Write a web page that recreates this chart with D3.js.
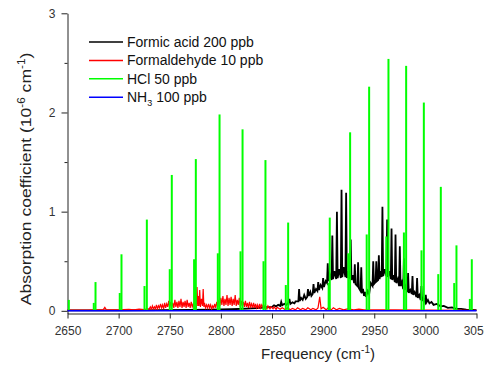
<!DOCTYPE html>
<html>
<head>
<meta charset="utf-8">
<script src="https://cdn.jsdelivr.net/npm/d3@7"></script>
<style>
  body { margin: 0; background: #fff; }
  svg { display: block; font-family: "Liberation Sans", Arial, sans-serif; }
  .axis path, .axis line { stroke: #222; }
  .axis text { fill: #333; font-size: 12px; font-family: "Liberation Sans", Arial, sans-serif; }
</style>
</head>
<body>
<svg id="chart" width="484" height="366"></svg>
<script>
// formic acid 200 ppb: [frequency, absorption]
const formicAcid = [
  [2650,.004],[2700,.005],[2740,.007],[2770,.010],[2790,.012],[2810,.016],[2825,.022],[2835,.028],
  [2845,.036],[2850,.04],[2852,.055],[2854,.045],[2856,.06],[2858,.05],[2859,.09],[2860,.055],
  [2862,.07],[2864,.06],[2866,.08],[2867,.12],[2868,.07],[2870,.085],[2872,.075],[2873,.095],
  [2875.8,.095],[2876.5,.22],[2877.2,.10],[2878.5,.13],[2880,.11],[2881.5,.16],[2883,.12],
  [2884.4,.14],[2885.2,.22],[2886,.15],[2887.5,.19],[2888.5,.15],
  [2889.8,.17],[2890.6,.27],[2891.4,.18],[2893,.22],[2894.4,.20],[2895.2,.29],[2896,.21],
  [2897.5,.26],[2899.2,.23],[2900,.33],[2900.8,.24],[2902.5,.30],[2903.8,.28],[2904.5,.48],[2905.2,.30],
  [2906.8,.36],[2908.3,.31],[2909,.76],[2909.7,.32],[2911,.40],[2912.8,.32],[2913.5,1.00],[2914.2,.33],
  [2915.8,.42],[2917.3,.33],[2918,1.22],[2918.7,.34],[2920,.44],[2921.8,.34],[2922.5,1.19],[2923.2,.33],
  [2924.8,.40],[2926.3,.32],[2927,.72],[2927.7,.31],[2929,.36],[2930.3,.28],[2931,.47],[2931.7,.27],
  [2933.5,.25],[2934.2,.49],[2934.9,.23],[2936.6,.20],[2937.3,.44],[2938,.18],
  [2939,.22],[2940,.15],[2941,.19],[2942,.14],[2943.5,.20],[2945,.17],[2946.5,.28],[2948.3,.25],[2949,.50],[2949.7,.27],
  [2951.3,.29],[2952,.50],[2952.7,.30],[2953.8,.31],[2954.5,.56],[2955.2,.32],
  [2956.3,.40],[2957.3,.34],[2958,1.05],[2958.7,.35],[2960.3,.42],[2961.9,.35],[2962.6,.92],[2963.3,.34],
  [2964.8,.40],[2966.2,.32],[2966.9,.83],[2967.6,.31],[2969,.36],[2970.1,.29],[2970.8,.77],[2971.5,.28],
  [2973,.32],[2974.3,.25],[2975,.65],[2975.7,.25],[2977,.29],[2978.3,.22],[2979,.53],[2979.7,.21],
  [2981,.25],[2982.4,.19],[2983.1,.38],[2983.8,.18],[2985.2,.21],[2986.7,.17],[2987.4,.35],[2988.1,.16],
  [2989.5,.19],[2991.2,.14],[2991.9,.33],[2992.6,.13],[2994,.16],[2995.4,.11],[2996.1,.25],[2996.8,.10],
  [2998,.13],[2999.7,.09],[3000.4,.16],[3001.1,.085],[3002.5,.11],[3004,.075],[3006,.09],[3008,.06],
  [3011,.07],[3015,.045],[3018,.05],[3022,.03],[3026,.035],[3030,.02],[3035,.02],[3040,.012],[3050,.008]
];

// formaldehyde 10 ppb
const formaldehyde = [
  [2650,.008],[2670,.008],[2685,.012],[2686.5,.035],[2688,.01],[2700,.01],[2710,.015],[2715,.01],
  [2720,.018],[2725,.012],[2728,.02],[2730,.02],[2731,.04],[2732,.015],[2733,.05],[2734,.02],
  [2735,.04],[2736,.02],[2737,.06],[2738,.02],[2739,.05],[2740,.03],[2741,.07],[2742,.03],
  [2743,.06],[2744,.02],[2745,.08],[2746,.03],[2747,.07],[2748,.04],[2749,.10],[2750,.03],
  [2751,.09],[2752,.04],[2753,.08],[2754,.03],[2755,.11],[2756,.04],[2757,.09],[2758,.03],
  [2759,.10],[2760,.04],[2761,.12],[2762,.03],[2763,.09],[2764,.04],[2765,.10],[2766,.03],
  [2767,.11],[2768,.04],[2769,.08],[2770,.03],[2771,.09],[2772,.04],[2773,.07],[2774,.03],
  [2775,.06],[2776,.04],[2776.7,.24],[2777.4,.05],[2778,.15],[2778.6,.05],[2779.3,.21],[2780,.04],
  [2781,.12],[2782,.05],[2782.7,.22],[2783.4,.04],[2784,.08],[2785,.03],[2786,.06],[2787,.03],
  [2788,.07],[2789,.03],[2790,.06],[2791,.02],[2792,.05],[2793,.03],[2794,.07],[2795,.03],
  [2796,.09],[2797,.04],[2798,.11],[2799,.05],[2800,.13],[2801,.06],[2802,.15],[2803,.05],
  [2804,.12],[2805,.06],[2806,.16],[2807,.05],[2808,.13],[2809,.06],[2810,.14],[2811,.05],
  [2812,.12],[2813,.06],[2814,.16],[2815,.05],[2816,.11],[2817,.06],[2818,.13],[2819,.04],
  [2820,.10],[2821,.05],[2822,.09],[2823,.04],[2824,.10],[2825,.04],[2826,.08],[2827,.03],
  [2828,.09],[2829,.04],[2830,.07],[2831,.03],[2832,.08],[2833,.03],[2834,.07],[2835,.03],
  [2836,.06],[2837,.02],[2838,.07],[2839,.03],[2840,.06],[2842,.02],[2843,.05],[2845,.02],
  [2846,.05],[2848,.02],[2849,.04],[2851,.02],[2852,.04],[2854,.015],[2855,.035],[2858,.015],
  [2860,.03],[2863,.01],[2865,.03],[2868,.01],[2870,.025],[2873,.01],[2875,.03],[2878,.01],
  [2880,.025],[2883,.01],[2885,.03],[2888,.01],[2890,.025],[2893,.01],[2895,.03],[2896.7,.14],
  [2898,.02],[2900,.035],[2903,.01],[2905,.03],[2908,.01],[2910,.03],[2913,.01],[2916,.025],
  [2920,.01],[2924,.02],[2930,.01],[2935,.018],[2940,.01],[2950,.01],[2970,.01],[3000,.008],[3050,.006]
];

// HCl 50 ppb: main lines and the weaker isotope lines beside them
const hclPos  = [2651.3,2677.4,2702.8,2727.6,2752.0,2775.5,2798.7,2821.2,2843.6,2865.8,
                 2906.5,2926.4,2945.0,2963.9,2981.2,2998.5,3015.1,3030.4,3045.4];
const hclPeak = [0.11,0.29,0.57,0.92,1.37,1.53,1.98,1.83,1.52,0.89,
                 0.94,1.80,2.26,2.54,2.47,2.10,1.25,0.66,0.52];
const hclIsoPos = [2675.7,2701.1,2725.3,2750.0,2773.8,2797.0,2819.2,2841.7,2863.5,
                   2905.4,2924.6,2942.6,2961.8,2979.0,2996.2,3012.6,3028.2,3043.5];
const hclIso    = [0.08,0.18,0.25,0.42,0.52,0.58,0.60,0.50,0.26,
                   0.28,0.58,0.77,0.75,0.79,0.61,0.37,0.28,0.12];

// NH3 100 ppb
const ammonia = [[2650,0],[2750,0],[2850,0],[2950,0],[3050,0]];

const xTicks = [2650,2700,2750,2800,2850,2900,2950,3000,3050];
const yTicks = [0,1,2,3];
const yMinorTicks = [0.5,1.5,2.5];

const svg = d3.select("#chart");

const x = d3.scaleLinear().domain([2650, 3050]).range([67.5, 476.5]);
const y = d3.scaleLinear().domain([-0.027, 3]).range([313.5, 13.3]);

const line = d3.line()
    .x(d => x(d[0]))
    .y(d => y(d[1]));

// axes
svg.append("g")
    .classed("axis", true)
    .attr("transform", `translate(0,${y(-0.027)})`)
    .call(d3.axisBottom(x).tickValues(xTicks).tickFormat(d3.format("d")).tickSize(5).tickSizeOuter(0).tickPadding(8));

svg.append("g")
    .classed("axis", true)
    .attr("transform", `translate(${x(2650)},0)`)
    .call(d3.axisLeft(y).tickValues(yTicks).tickFormat(d3.format("d")).tickSize(6).tickSizeOuter(0).tickPadding(6));

svg.append("g")
    .classed("axis", true)
    .attr("transform", `translate(${x(2650)},0)`)
    .call(d3.axisLeft(y).tickValues(yMinorTicks).tickSize(3).tickSizeOuter(0).tickFormat(""))
    .select(".domain").remove();

// spectra
svg.append("path")
    .datum(formicAcid)
    .attr("d", line)
    .attr("fill", "none")
    .attr("stroke", "#000")
    .attr("stroke-width", 1.8);

svg.append("path")
    .datum(formaldehyde)
    .attr("d", line)
    .attr("fill", "none")
    .attr("stroke", "#ff0000")
    .attr("stroke-width", 1.2);

const hclLines = hclPos.map((f, i) => [f, hclPeak[i]])
    .concat(hclIsoPos.map((f, i) => [f, hclIso[i]]));

svg.selectAll("line.hcl")
    .data(hclLines)
    .join("line")
    .classed("hcl", true)
    .attr("x1", d => x(d[0]))
    .attr("x2", d => x(d[0]))
    .attr("y1", y(0))
    .attr("y2", d => y(d[1]))
    .attr("stroke", "#00ff00")
    .attr("stroke-width", 2);

svg.append("path")
    .datum(ammonia)
    .attr("d", line)
    .attr("fill", "none")
    .attr("stroke", "#0000ff")
    .attr("stroke-width", 1.5);

// legend
const legendItems = [
    {label: "Formic acid 200 ppb", color: "#000"},
    {label: "Formaldehyde 10 ppb", color: "#ff0000"},
    {label: "HCl 50 ppb", color: "#00ff00"},
    {label: "NH", sub: "3", rest: " 100 ppb", color: "#0000ff"}
];

const legend = svg.selectAll("g.legend")
    .data(legendItems)
    .join("g")
    .classed("legend", true)
    .attr("transform", (d, i) => `translate(89,${42 + i * 18.4})`);

legend.append("line")
    .attr("x1", 0).attr("x2", 34)
    .attr("stroke", d => d.color)
    .attr("stroke-width", 1.5);

legend.append("text")
    .attr("x", 38)
    .attr("y", 5)
    .attr("font-size", 14)
    .attr("fill", "#111")
    .each(function(d) {
        const t = d3.select(this);
        t.append("tspan").text(d.label);
        if (d.sub) {
            t.append("tspan").attr("font-size", 9).attr("dy", 4).text(d.sub);
            t.append("tspan").attr("dy", -4).text(d.rest);
        }
    });

// axis titles
const xTitle = svg.append("text")
    .attr("x", 318)
    .attr("y", 359)
    .attr("text-anchor", "middle")
    .attr("font-size", 15)
    .attr("fill", "#222");
xTitle.append("tspan").text("Frequency (cm");
xTitle.append("tspan").attr("font-size", 10).attr("dy", -6).text("-1");
xTitle.append("tspan").attr("dy", 6).text(")");

// the reference title is drawn a little stretched along its length
const yTitle = svg.append("text")
    .attr("transform", "translate(31,179) scale(1,1.17) rotate(-90)")
    .attr("text-anchor", "middle")
    .attr("font-size", 15)
    .attr("fill", "#222");
yTitle.append("tspan").text("Absorption coefficient (10");
yTitle.append("tspan").attr("font-size", 10).attr("dy", -6).text("-6");
yTitle.append("tspan").attr("dy", 6).text(" cm");
yTitle.append("tspan").attr("font-size", 10).attr("dy", -6).text("-1");
yTitle.append("tspan").attr("dy", 6).text(")");
</script>
</body>
</html>
